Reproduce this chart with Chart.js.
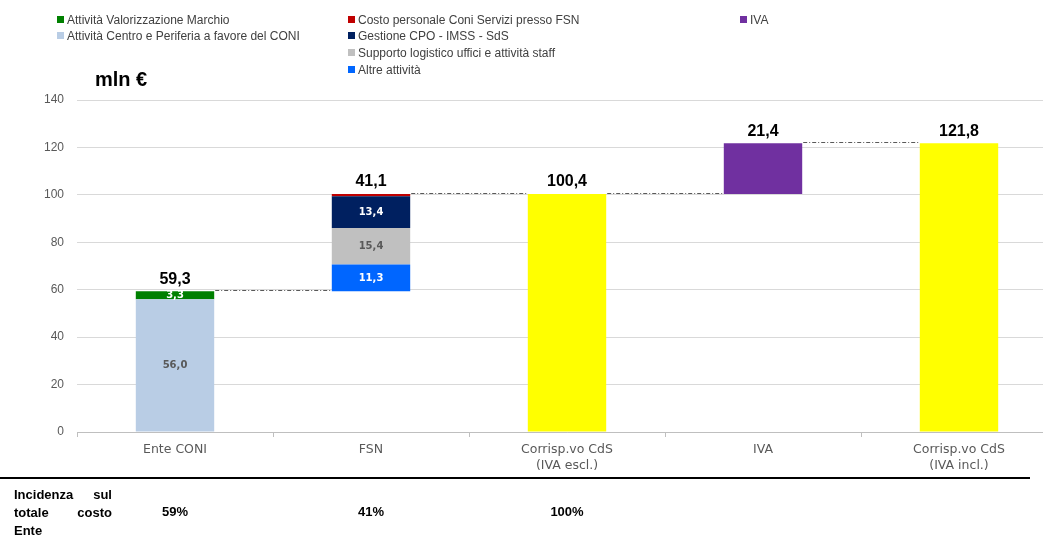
<!DOCTYPE html>
<html>
<head>
<meta charset="utf-8">
<script src="https://cdn.jsdelivr.net/npm/chart.js@4/dist/chart.umd.min.js"></script>
<style>
  body { margin: 0; width: 1043px; height: 538px; overflow: hidden; background: #fff; position: relative; font-family: "Liberation Sans", Arial, sans-serif; }
  #wrap { position: absolute; left: 0; top: 0; width: 1058px; height: 538px; }
  .leg { position: absolute; font-size: 12px; color: #404040; white-space: nowrap; line-height: 14px; }
  .leg i { display: inline-block; width: 7px; height: 7px; margin-right: 3px; vertical-align: 1px; }
  .unit { position: absolute; left: 95px; top: 68px; font-size: 20px; font-weight: bold; color: #000; }
  .rule { position: absolute; left: 0; top: 477px; width: 1030px; height: 2px; background: #000; }
  .inc { position: absolute; left: 14px; top: 486px; width: 98px; font-size: 13px; font-weight: bold; line-height: 18px; color: #000; }
  .inc div { display: flex; justify-content: space-between; }
  .pct { position: absolute; top: 504px; font-size: 13px; font-weight: bold; color: #000; transform: translateX(-50%); }
</style>
</head>
<body>
<div id="wrap"><canvas id="ourChart" width="1058" height="538"></canvas></div>
<div class="unit">mln €</div>
<div class="rule"></div>
<div class="inc"><div><span>Incidenza</span><span>sul</span></div><div><span>totale</span><span>costo</span></div><div><span>Ente</span></div></div>
<div id="legend"></div>
<div id="pcts"></div>
<script>
// categorie e valori (mln €)
var categories = [["Ente CONI"], ["FSN"], ["Corrisp.vo CdS", "(IVA escl.)"], ["IVA"], ["Corrisp.vo CdS", "(IVA incl.)"]];
var baseValues = [0, 59.3, 0, 100.4, 0];
var centroPeriferia = [56.0, null, null, null, null];
var valorizzazione = [3.3, null, null, null, null];
var altreAttivita = [null, 11.3, null, null, null];
var supportoLogistico = [null, 15.4, null, null, null];
var gestioneCPO = [null, 13.4, null, null, null];
var costoPersonale = [null, 1.0, null, null, null];
var iva = [null, null, null, 21.4, null];
var corrispettivo = [null, null, 100.4, null, 121.8];
var totalLabels = [59.3, 41.1, 100.4, 21.4, 121.8];
var yTicks = [0, 20, 40, 60, 80, 100, 120, 140];
var incidenza = ["59%", "41%", "100%"];

function fmt(v) { return v.toFixed(1).replace('.', ','); }

// legend in three columns like the original
var legendItems = [
    { label: 'Attività Valorizzazione Marchio', color: '#008000', x: 57, y: 13 },
    { label: 'Attività Centro e Periferia a favore del CONI', color: '#b9cde5', x: 57, y: 29 },
    { label: 'Costo personale Coni Servizi presso FSN', color: '#c00000', x: 348, y: 13 },
    { label: 'Gestione CPO - IMSS - SdS', color: '#002060', x: 348, y: 29 },
    { label: 'Supporto logistico uffici e attività staff', color: '#c0c0c0', x: 348, y: 46 },
    { label: 'Altre attività', color: '#0066ff', x: 348, y: 63 },
    { label: 'IVA', color: '#7030a0', x: 740, y: 13 }
];
var legendHtml = '';
legendItems.forEach(function (it) {
    legendHtml += '<div class="leg" style="left:' + it.x + 'px;top:' + it.y + 'px"><i style="background:' + it.color + '"></i>' + it.label + '</div>';
});
document.getElementById('legend').innerHTML = legendHtml;

var segLabel = {
    1: '#595959', 2: '#ffffff', 3: '#ffffff', 4: '#595959', 5: '#ffffff'
};

var waterfallPlugin = {
    id: 'waterfall',
    afterDatasetsDraw: function (chart) {
        var ctx = chart.ctx;
        var y = chart.scales.y;
        var baseMeta = chart.getDatasetMeta(0);
        var tops = [];
        for (var i = 0; i < categories.length; i++) {
            var s = 0;
            chart.data.datasets.forEach(function (ds) { s += ds.data[i] || 0; });
            tops.push(s);
        }
        ctx.save();
        // connectors
        ctx.strokeStyle = '#595959';
        ctx.lineWidth = 1;
        ctx.setLineDash([4, 2, 1, 2]);
        for (var i = 0; i < categories.length - 1; i++) {
            var a = baseMeta.data[i], b = baseMeta.data[i + 1];
            var py = Math.round(y.getPixelForValue(tops[i])) - 0.5;
            ctx.beginPath();
            ctx.moveTo(a.x + a.width / 2 + 1, py);
            ctx.lineTo(b.x - b.width / 2 - 1, py);
            ctx.stroke();
        }
        ctx.setLineDash([]);
        // segment values
        ctx.textAlign = 'center';
        ctx.textBaseline = 'middle';
        ctx.font = 'bold 10px "DejaVu Sans"';
        Object.keys(segLabel).forEach(function (k) {
            var meta = chart.getDatasetMeta(+k);
            var data = chart.data.datasets[k].data;
            meta.data.forEach(function (el, i) {
                if (data[i] == null) return;
                ctx.fillStyle = segLabel[k];
                ctx.fillText(fmt(data[i]), el.x, (el.y + el.base) / 2);
            });
        });
        // totals
        ctx.fillStyle = '#000';
        ctx.font = 'bold 16px "Liberation Sans", Arial';
        ctx.textBaseline = 'bottom';
        for (var i = 0; i < categories.length; i++) {
            ctx.fillText(fmt(totalLabels[i]), baseMeta.data[i].x, y.getPixelForValue(tops[i]) - 4);
        }
        ctx.restore();
    }
};

function ds(label, data, color) {
    return { label: label, data: data, backgroundColor: color, borderWidth: 0, barPercentage: 0.8, categoryPercentage: 0.5 };
}

var chartElement = new Chart(document.getElementById('ourChart'), {
    type: 'bar',
    data: {
        labels: categories,
        datasets: [
            ds('base', baseValues, 'rgba(0,0,0,0)'),
            ds('Attività Centro e Periferia a favore del CONI', centroPeriferia, '#b9cde5'),
            ds('Attività Valorizzazione Marchio', valorizzazione, '#008000'),
            ds('Altre attività', altreAttivita, '#0066ff'),
            ds('Supporto logistico uffici e attività staff', supportoLogistico, '#c0c0c0'),
            ds('Gestione CPO - IMSS - SdS', gestioneCPO, '#002060'),
            ds('Costo personale Coni Servizi presso FSN', costoPersonale, '#c00000'),
            ds('IVA', iva, '#7030a0'),
            ds('Corrispettivo', corrispettivo, '#ffff00')
        ]
    },
    options: {
        responsive: false,
        animation: false,
        layout: { padding: { top: 100, bottom: 61, left: 0, right: 1 } },
        plugins: { legend: { display: false }, tooltip: { enabled: false } },
        scales: {
            x: {
                stacked: true,
                afterFit: function (s) { s.height = 45; },
                grid: { drawOnChartArea: false, drawTicks: true, tickLength: 5, color: '#bfbfbf' },
                border: { color: '#bfbfbf' },
                ticks: { color: '#595959', padding: 5, font: { family: 'DejaVu Sans', size: 12.5, lineHeight: 1.25 }, maxRotation: 0 }
            },
            y: {
                stacked: true,
                min: 0, max: 140,
                afterFit: function (s) { s.width = 77; },
                afterBuildTicks: function (s) { s.ticks = yTicks.map(function (v) { return { value: v }; }); },
                grid: { color: '#d9d9d9', drawTicks: false },
                border: { display: false },
                ticks: { color: '#595959', padding: 13, font: { family: 'Liberation Sans', size: 12 } }
            }
        }
    },
    plugins: [waterfallPlugin]
});

// percentuali sotto le prime tre colonne
var pctHtml = '';
incidenza.forEach(function (p, i) {
    var x = chartElement.scales.x.getPixelForValue(i);
    pctHtml += '<div class="pct" style="left:' + x + 'px">' + p + '</div>';
});
document.getElementById('pcts').innerHTML = pctHtml;
</script>
</body>
</html>
